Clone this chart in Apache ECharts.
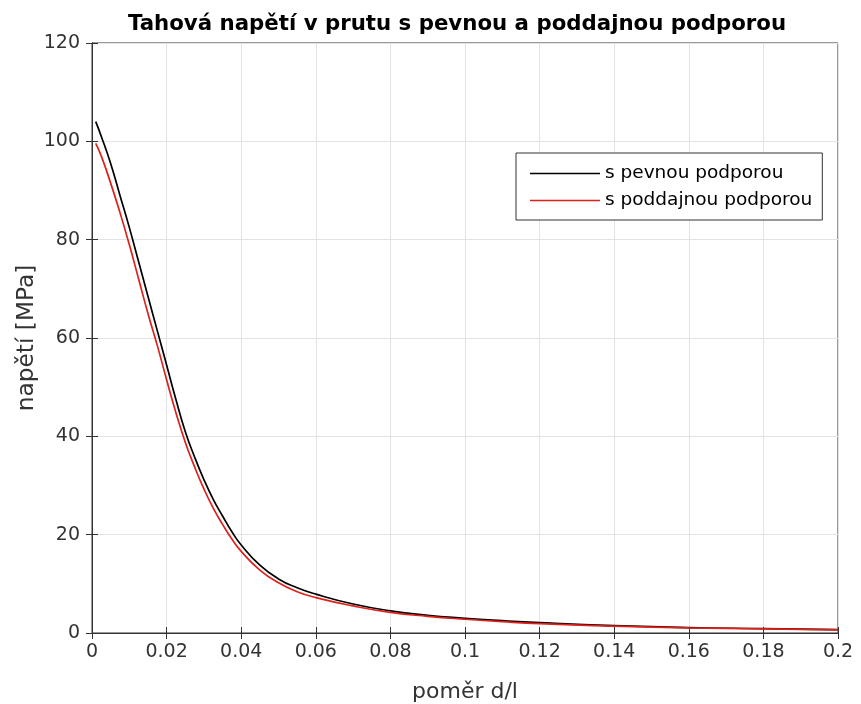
<!DOCTYPE html>
<html><head><meta charset="utf-8">
<script src="https://cdn.jsdelivr.net/npm/echarts@6/dist/echarts.min.js"></script>
<style>html,body{margin:0;padding:0;background:#fff}#c{width:861px;height:704px}</style>
</head><body><div id="c"></div>
<script>
const xPevna = [0.001,0.0025,0.005,0.0075,0.01,0.0125,0.015,0.0175,0.02,0.0225,0.025,0.0275,0.03,0.0325,0.035,0.0375,0.04,0.045,0.05,0.055,0.06,0.07,0.08,0.09,0.1,0.11,0.12,0.14,0.16,0.18,0.2];
const yPevna = [104,101,95.5,89,82.5,75.5,68.5,61.5,54.5,47.5,41,35.8,31.2,27.2,23.8,20.6,17.9,13.8,11,9.2,7.9,5.9,4.5,3.6,3.0,2.5,2.1,1.5,1.1,0.9,0.7];
const xPoddajna = [0.001,0.0025,0.005,0.0075,0.01,0.0125,0.015,0.0175,0.02,0.0225,0.025,0.0275,0.03,0.0325,0.035,0.0375,0.04,0.045,0.05,0.055,0.06,0.07,0.08,0.09,0.1,0.11,0.12,0.14,0.16,0.18,0.2];
const yPoddajna = [99.6,97,91.5,85.5,79,72,65,58.5,51.5,44.8,38.8,33.8,29.3,25.4,22.1,19.1,16.6,12.8,10.2,8.4,7.2,5.5,4.2,3.4,2.8,2.3,1.9,1.4,1.05,0.85,0.65];
const seriesNames = ['s pevnou podporou','s poddajnou podporou'];
const titleText = 'Tahová napětí v prutu s pevnou a poddajnou podporou';
const xLabel = 'poměr d/l';
const yLabel = 'napětí [MPa]';

const zip = (xs, ys) => xs.map((x, i) => [x, ys[i]]);
const axisCol = '#333333';
const font = 'DejaVu Sans';
const fmt = v => parseFloat(v.toFixed(3)).toString();

const chart = echarts.init(document.getElementById('c'), null, {renderer: 'canvas'});
chart.setOption({
  animation: false,
  backgroundColor: '#fff',
  textStyle: {fontFamily: font},
  title: {text: titleText, left: 452, textAlign: 'center', top: 9,
    textStyle: {fontFamily: font, fontSize: 21.3, fontWeight: 'bold', color: '#000'}},
  grid: {left: 92, right: 23, top: 43, bottom: 71, show: true, borderColor: axisCol, borderWidth: 1,
    backgroundColor: '#fff', containLabel: false, outerBoundsMode: 'none'},
  legend: {
    orient: 'vertical', left: 516, top: 153, padding: [11, 10, 10, 14],
    itemWidth: 70, itemHeight: 1.5, itemGap: 8, icon: 'rect',
    backgroundColor: '#fff', borderColor: axisCol, borderWidth: 1,
    textStyle: {fontFamily: font, fontSize: 18.5, lineHeight: 18, color: '#000'},
    data: seriesNames
  },
  xAxis: [{
    type: 'value', min: 0, max: 0.2, interval: 0.02,
    name: xLabel, nameLocation: 'middle', nameGap: 48, nameMoveOverlap: false,
    nameTextStyle: {fontFamily: font, fontSize: 22, color: axisCol},
    axisLine: {show: true, lineStyle: {color: axisCol}},
    axisTick: {show: true, inside: true, length: 6, lineStyle: {color: axisCol}},
    axisLabel: {formatter: fmt, fontFamily: font, fontSize: 19, color: axisCol, margin: 10},
    splitLine: {show: true, lineStyle: {color: '#e3e3e3'}}
  }, {
    type: 'value', min: 0, max: 0.2, interval: 0.02, position: 'top',
    axisLine: {show: true, lineStyle: {color: axisCol}},
    axisTick: {show: true, inside: true, length: 6, lineStyle: {color: axisCol}},
    axisLabel: {show: false}, splitLine: {show: false}
  }],
  yAxis: [{
    type: 'value', min: 0, max: 120, interval: 20,
    name: yLabel, nameLocation: 'middle', nameGap: 54, nameRotate: 90, nameMoveOverlap: false,
    nameTextStyle: {fontFamily: font, fontSize: 23.3, color: axisCol},
    axisLine: {show: true, lineStyle: {color: axisCol}},
    axisTick: {show: true, inside: true, length: 6, lineStyle: {color: axisCol}},
    axisLabel: {fontFamily: font, fontSize: 19, color: axisCol, margin: 12},
    splitLine: {show: true, lineStyle: {color: '#e3e3e3'}}
  }, {
    type: 'value', min: 0, max: 120, interval: 20, position: 'right',
    axisLine: {show: true, lineStyle: {color: axisCol}},
    axisTick: {show: true, inside: true, length: 6, lineStyle: {color: axisCol}},
    axisLabel: {show: false}, splitLine: {show: false}
  }],
  series: [{
    name: seriesNames[0], type: 'line', data: zip(xPevna, yPevna), smooth: true,
    symbol: 'none', lineStyle: {color: '#000', width: 1.7}, itemStyle: {color: '#000'}
  }, {
    name: seriesNames[1], type: 'line', data: zip(xPoddajna, yPoddajna), smooth: true,
    symbol: 'none', lineStyle: {color: '#e0201b', width: 1.7}, itemStyle: {color: '#e0201b'}
  }]
});
</script></body></html>
